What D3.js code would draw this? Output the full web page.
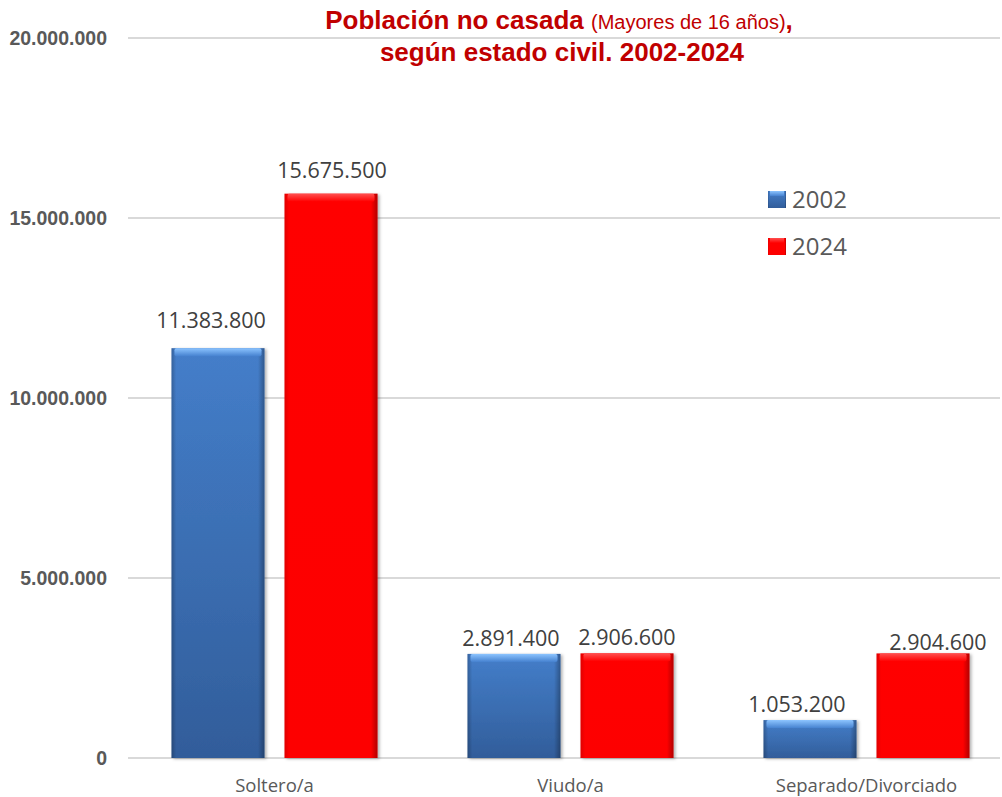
<!DOCTYPE html>
<html>
<head>
<meta charset="utf-8">
<script src="https://cdn.jsdelivr.net/npm/d3@7"></script>
<style>
  html, body { margin: 0; padding: 0; background: #fff; }
  svg { display: block; }
</style>
</head>
<body>
<script>
const categories = ["Soltero/a", "Viudo/a", "Separado/Divorciado"];
const years = ["2002", "2024"];
const values2002 = [11383800, 2891400, 1053200];
const values2024 = [15675500, 2906600, 2904600];
const yTicks = [0, 5000000, 10000000, 15000000, 20000000];
// hand-placed data label nudges from the original (dx, dy above bar top)
const labelNudge2002 = [[-7, -20], [-3, -8], [-13, -8]];
const labelNudge2024 = [[1, -16], [0, -8], [15, -3]];

const width = 1002, height = 797;
const marginLeft = 128, gridRight = 1000;

const fmt = d3.formatLocale({decimal: ",", thousands: ".", grouping: [3], currency: ["", "€"]}).format(",d");

const data = categories.map((c, i) => ({
  cat: c,
  bars: [
    {year: years[0], value: values2002[i], nudge: labelNudge2002[i]},
    {year: years[1], value: values2024[i], nudge: labelNudge2024[i]}
  ]
}));

const x0 = d3.scaleBand()
    .domain(categories)
    .range([126.5, 1014.5])
    .padding(0);

const x1 = d3.scaleBand()
    .domain(years)
    .range([45, 251])
    .paddingInner(0.177)
    .paddingOuter(0);

const y = d3.scaleLinear()
    .domain([0, 20000000])
    .range([758, 38]);

const svg = d3.select("body").append("svg")
    .attr("width", width)
    .attr("height", height);

const defs = svg.append("defs");

function vGrad(id, top, bottom) {
  const g = defs.append("linearGradient").attr("id", id)
      .attr("x1", 0).attr("y1", 0).attr("x2", 0).attr("y2", 1);
  g.append("stop").attr("offset", "0%").attr("stop-color", top);
  g.append("stop").attr("offset", "100%").attr("stop-color", bottom);
}
vGrad("blueV", "#4682d0", "#33609f");
vGrad("redV", "#ff0000", "#fd0000");
vGrad("blueTop", "#8cc4ff", "#4682d0");
vGrad("redTop", "#ff5050", "#ff0000");

function sideGrad(id, left, mid, right) {
  const g = defs.append("linearGradient").attr("id", id)
      .attr("x1", 0).attr("y1", 0).attr("x2", 1).attr("y2", 0);
  g.append("stop").attr("offset", "0%").attr("stop-color", "#000").attr("stop-opacity", left);
  g.append("stop").attr("offset", "5%").attr("stop-color", "#000").attr("stop-opacity", mid);
  g.append("stop").attr("offset", "93%").attr("stop-color", "#000").attr("stop-opacity", mid);
  g.append("stop").attr("offset", "100%").attr("stop-color", "#000").attr("stop-opacity", right);
}
sideGrad("blueSide", 0.25, 0.03, 0.32);
sideGrad("redSide", 0.12, 0, 0.3);

const shadow = defs.append("filter").attr("id", "shadow").attr("x", "-20%").attr("y", "-20%").attr("width", "140%").attr("height", "140%");
shadow.append("feDropShadow").attr("dx", 2).attr("dy", 1).attr("stdDeviation", 1.5)
    .attr("flood-color", "#000").attr("flood-opacity", 0.3);

const isOld = d => d === "2002" || d.year === "2002";

// gridlines
svg.append("g")
  .selectAll("line")
  .data(yTicks)
  .join("line")
    .attr("x1", marginLeft)
    .attr("x2", gridRight)
    .attr("y1", d => y(d))
    .attr("y2", d => y(d))
    .attr("stroke", "#d9d9d9")
    .attr("stroke-width", 2);

// y tick labels
svg.append("g")
    .attr("font-family", "Arial, 'Liberation Sans', sans-serif")
    .attr("font-weight", "bold")
    .attr("font-size", 19.5)
    .attr("fill", "#595959")
    .attr("text-anchor", "end")
  .selectAll("text")
  .data(yTicks)
  .join("text")
    .attr("x", 107)
    .attr("y", d => y(d))
    .attr("dy", "0.36em")
    .text(d => fmt(d));

// bars
const groups = svg.append("g")
  .selectAll("g")
  .data(data)
  .join("g")
    .attr("transform", d => `translate(${x0(d.cat)},0)`);

const bar = groups.selectAll("g.bar")
  .data(d => d.bars)
  .join("g")
    .attr("class", "bar");

bar.append("rect")
    .attr("x", d => x1(d.year))
    .attr("y", d => y(d.value))
    .attr("width", x1.bandwidth())
    .attr("height", d => y(0) - y(d.value))
    .attr("fill", d => isOld(d) ? "url(#blueV)" : "url(#redV)")
    .attr("filter", "url(#shadow)");

bar.append("rect")
    .attr("x", d => x1(d.year))
    .attr("y", d => y(d.value))
    .attr("width", x1.bandwidth())
    .attr("height", d => y(0) - y(d.value))
    .attr("fill", d => isOld(d) ? "url(#blueSide)" : "url(#redSide)");

bar.append("rect")
    .attr("x", d => x1(d.year) + 3)
    .attr("y", d => y(d.value))
    .attr("width", x1.bandwidth() - 6)
    .attr("height", 8)
    .attr("rx", 2)
    .attr("fill", d => isOld(d) ? "url(#blueTop)" : "url(#redTop)");

// data labels
bar.append("text")
    .attr("x", d => x1(d.year) + x1.bandwidth() / 2 + d.nudge[0])
    .attr("y", d => y(d.value) + d.nudge[1])
    .attr("text-anchor", "middle")
    .attr("font-family", "'Open Sans', sans-serif")
    .attr("font-size", 21.5)
    .attr("fill", "#404040")
    .text(d => fmt(d.value));

// category labels
svg.append("g")
    .attr("font-family", "'Open Sans', sans-serif")
    .attr("font-size", 18.5)
    .attr("fill", "#595959")
    .attr("text-anchor", "middle")
  .selectAll("text")
  .data(categories)
  .join("text")
    .attr("x", d => x0(d) + x0.bandwidth() / 2)
    .attr("y", 792)
    .text(d => d);

// legend
const legend = svg.append("g")
  .selectAll("g")
  .data(years)
  .join("g")
    .attr("transform", (d, i) => `translate(768,${191 + i * 47})`);

legend.append("rect")
    .attr("width", 18)
    .attr("height", 17)
    .attr("fill", d => isOld(d) ? "url(#blueV)" : "url(#redV)");
legend.append("rect")
    .attr("width", 18)
    .attr("height", 17)
    .attr("fill", d => isOld(d) ? "url(#blueSide)" : "url(#redSide)");
legend.append("rect")
    .attr("x", 2)
    .attr("width", 14)
    .attr("height", 5)
    .attr("fill", d => isOld(d) ? "url(#blueTop)" : "url(#redTop)");

legend.append("text")
    .attr("x", 24)
    .attr("y", 8.5)
    .attr("dy", "0.36em")
    .attr("font-family", "'Open Sans', sans-serif")
    .attr("font-size", 24)
    .attr("fill", "#595959")
    .text(d => d);

// title
const title = svg.append("text")
    .attr("text-anchor", "middle")
    .attr("font-family", "Arial, 'Liberation Sans', sans-serif")
    .attr("fill", "#c00000");

const line1 = title.append("tspan").attr("x", 559).attr("y", 29);
line1.append("tspan").attr("font-weight", "bold").attr("font-size", 26).text("Población no casada ");
line1.append("tspan").attr("font-size", 20).text("(Mayores de 16 años)");
line1.append("tspan").attr("font-weight", "bold").attr("font-size", 26).text(",");

title.append("tspan")
    .attr("x", 562)
    .attr("y", 61)
    .attr("font-weight", "bold")
    .attr("font-size", 26)
    .text("según estado civil. 2002-2024");
</script>
</body>
</html>
